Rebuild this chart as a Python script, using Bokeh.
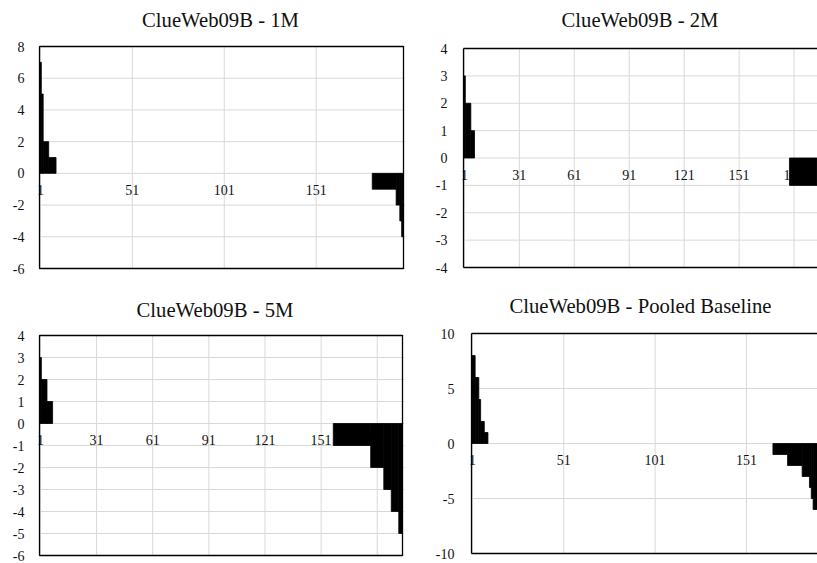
from bokeh.plotting import figure
from bokeh.layouts import column, row
from bokeh.models import FixedTicker, Range1d, ColumnDataSource
from bokeh.core.properties import value
from bokeh.embed import file_html
from bokeh.resources import INLINE

SERIF = "Liberation Serif"
TXT = "#111111"
GRID = "#d9d9d9"

# ---------------- data (per-query differences, sorted) ----------------
titles = ["ClueWeb09B - 1M", "ClueWeb09B - 2M", "ClueWeb09B - 5M", "ClueWeb09B - Pooled Baseline"]

# number of query positions drawn in each panel
n_1m = 198
n_2m = 193          # right part of this panel is cut off in the picture
n_5m = 194
n_pool = 190        # right part of this panel is cut off in the picture

# leading (positive) values, first queries
head_1m = [7, 5, 2, 2, 2, 1, 1, 1, 1]
head_2m = [3, 2, 2, 2, 1, 1]
head_5m = [3, 2, 2, 2, 1, 1, 1]
head_pool = [8, 8, 6, 6, 4, 2, 2, 1, 1]

# trailing (negative) values, last queries
tail_1m = [-1, -1, -1, -1, -1, -1, -1, -1, -1, -1, -1, -1, -1, -2, -2, -3, -4]
tail_2m = [-1, -1, -1, -1, -1, -1, -1, -1, -1, -1, -1, -1, -1, -1, -1]
tail_5m = [-1, -1, -1, -1, -1, -1, -1, -1, -1, -1, -1, -1, -1, -1, -1, -1, -1, -1, -1, -1,
           -2, -2, -2, -2, -2, -2, -2,
           -3, -3, -3, -3,
           -4, -4, -4, -4,
           -5, -5]
tail_pool = [-1, -1, -1, -1, -1, -1, -1, -1,
             -2, -2, -2, -2, -2, -2, -2, -2,
             -3, -3, -3, -3,
             -4, -5, -6, -6, -6]

# axis ticks / labels
yticks_1m = [8, 6, 4, 2, 0, -2, -4, -6]
yticks_2m = [4, 3, 2, 1, 0, -1, -2, -3, -4]
yticks_5m = [4, 3, 2, 1, 0, -1, -2, -3, -4, -5, -6]
yticks_pool = [10, 5, 0, -5, -10]

xticks_50 = [1, 51, 101, 151]
xticks_30 = [1, 31, 61, 91, 121, 151, 181]


def panel(title, n, head, tail, yticks, xticks, x_end, w, h,
          box_l, box_r, box_t, box_b, cropped, title_dx, title_dy, standoff):
    vals = head + [0] * (n - len(head) - len(tail)) + tail

    # runs of equal non-zero values -> bars
    lefts, rights, tops = [], [], []
    i = 0
    while i < n:
        v = vals[i]
        j = i
        while j + 1 < n and vals[j + 1] == v:
            j += 1
        if v != 0:
            lefts.append(i + 0.5)
            rights.append(j + 1.5)
            tops.append(v)
        i = j + 1

    ymin, ymax = min(yticks), max(yticks)
    fl = box_l - 2
    fr = box_r if cropped else box_r + 2
    kx = (x_end - 0.5) / (box_r - box_l)
    ky = (ymax - ymin) / (box_b - box_t)
    xr = Range1d(0.5 - kx * (box_l - fl), x_end + kx * (fr - box_r))
    yr = Range1d(ymin - ky * (h - box_b), ymax + ky * box_t)

    p = figure(width=w, height=h, output_backend="svg", toolbar_location=None,
               x_range=xr, y_range=yr, x_axis_location=None,
               min_border_left=fl, min_border_right=w - fr,
               min_border_top=0, min_border_bottom=0)
    p.background_fill_color = "white"
    p.border_fill_color = "white"
    p.outline_line_color = None
    p.grid.visible = False

    yax = p.yaxis[0]
    yax.ticker = FixedTicker(ticks=yticks)
    yax.major_label_overrides = {t: str(t) for t in yticks}
    yax.major_label_text_font = SERIF
    yax.major_label_text_font_size = "14px"
    yax.major_label_text_color = TXT
    yax.axis_line_color = None
    yax.major_tick_line_color = None
    yax.minor_tick_line_color = None
    yax.major_tick_out = 0
    yax.major_tick_in = 0
    yax.minor_tick_out = 0
    yax.minor_tick_in = 0
    yax.major_label_standoff = standoff

    # gridlines
    p.segment(x0=xticks, y0=[ymin] * len(xticks), x1=xticks, y1=[ymax] * len(xticks),
              line_color=GRID, line_width=1)
    p.segment(x0=[0.5] * len(yticks), y0=yticks, x1=[xr.end] * len(yticks), y1=yticks,
              line_color=GRID, line_width=1)

    # category labels along the zero line (beneath the bars)
    src_lab = ColumnDataSource(dict(x=xticks, y=[0] * len(xticks), t=[str(t) for t in xticks]))
    p.text(x="x", y="y", text="t", source=src_lab, text_font=value(SERIF),
           text_font_size=value("14px"), text_color=TXT, text_align="center",
           text_baseline="alphabetic", y_offset=16.5)

    # bars
    src = ColumnDataSource(dict(left=lefts, right=rights, top=tops, bottom=[0] * len(tops)))
    p.quad(left="left", right="right", top="top", bottom="bottom", source=src,
           fill_color="black", line_color="black", line_width=0.8)

    # chart box
    if cropped:
        p.segment(x0=[0.5, 0.5, 0.5], y0=[ymin, ymax, ymin], x1=[0.5, xr.end, xr.end],
                  y1=[ymax, ymax, ymin], line_color="black", line_width=1.3)
    else:
        p.quad(left=[0.5], right=[x_end], bottom=[ymin], top=[ymax], fill_color=None,
               line_color="black", line_width=1.3)

    # title
    p.text(x=[0.5], y=[ymax], text=[title], text_font=value(SERIF),
           text_font_size=value("20.7px"), text_color=TXT, text_align="center",
           text_baseline="alphabetic", x_offset=title_dx, y_offset=title_dy)
    return p


# page is 817 x 563; top row 290 high, bottom row 273 high; left column 420 wide
p1 = panel(titles[0], n_1m, head_1m, tail_1m, yticks_1m, xticks_50, n_1m + 0.5,
           420, 290, 39, 403, 46, 268, False, 181, -26.3, 13)
p2 = panel(titles[1], n_2m, head_2m, tail_2m, yticks_2m, xticks_30, 193.8,
           397, 290, 43, 397, 48, 267, True, 176.5, -28.3, 14)
p3 = panel(titles[2], n_5m, head_5m, tail_5m, yticks_5m, xticks_30, n_5m + 0.5,
           420, 273, 39, 402, 45, 265, False, 175.5, -25.9, 13)
p4 = panel(titles[3], n_pool, head_pool, tail_pool, yticks_pool, xticks_50, 189.9,
           397, 273, 51, 397, 43, 263, True, 169, -27.3, 15)

layout = column(row(p1, p2), row(p3, p4))
open("out.html", "w").write(file_html(layout, INLINE))
